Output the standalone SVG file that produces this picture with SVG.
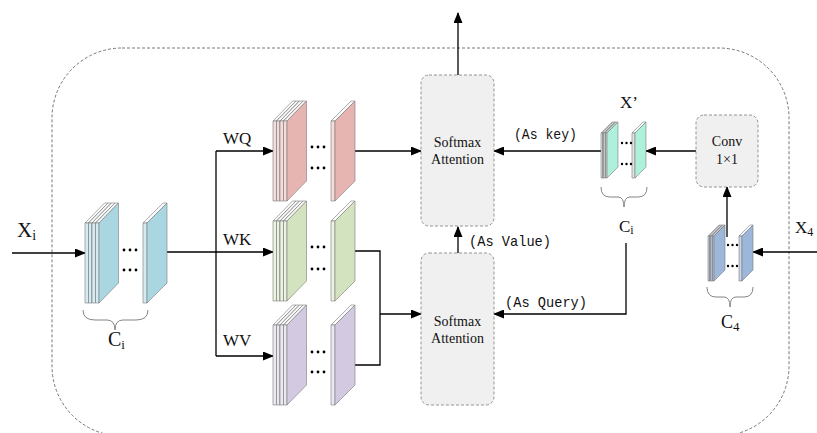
<svg xmlns="http://www.w3.org/2000/svg" xmlns:xlink="http://www.w3.org/1999/xlink" width="817" height="433" viewBox="0 0 817 433">
<style>
.slab{stroke:#7a7a7a;stroke-width:0.6;stroke-linejoin:round}
.ln{fill:none;stroke:#000;stroke-width:1.3}
.arr{marker-end:url(#ah)}
.box{fill:#f0f0f0;stroke:#888;stroke-width:0.9;stroke-dasharray:3 2}
.brace{fill:none;stroke:#777;stroke-width:0.9}
.serif{font-family:"Liberation Serif","Times New Roman",serif;fill:#111}
.mono{font-family:"Liberation Mono","Courier New",monospace;font-size:15px;fill:#111}
.bt{font-size:14px;text-anchor:middle}
.dots circle{fill:#111}
</style>
<defs>
<marker id="ah" markerWidth="11" markerHeight="9" refX="10" refY="4.5" orient="auto" markerUnits="userSpaceOnUse"><path d="M0,0 L11,4.5 L0,9 z" fill="#000"/></marker>
<g id="L"><polygon points="0,0 3.5,0 23,-20 19.5,-20" fill="#fafafa"/><rect width="3.5" height="80" fill="currentColor"/><polygon points="3.5,0 23,-20 23,60 3.5,80"/></g>
<g id="S"><polygon points="0,0 4,0 24,-20 20,-20" fill="#fafafa"/><rect width="4" height="80" fill="currentColor"/><polygon points="4,0 24,-20 24,60 4,80"/></g>
<g id="l"><polygon points="0,0 1.5,0 12.5,-11 11,-11" fill="#fafafa"/><rect width="1.5" height="45" fill="currentColor"/><polygon points="1.5,0 12.5,-11 12.5,34 1.5,45"/></g>
<g id="s"><polygon points="0,0 3,0 14,-11 11,-11" fill="#fafafa"/><rect width="3" height="45" fill="currentColor"/><polygon points="3,0 14,-11 14,34 3,45"/></g>
<g id="d6"><circle cx="0" cy="0" r="1.4"/><circle cx="6" cy="0" r="1.4"/><circle cx="12" cy="0" r="1.4"/></g>
<g id="d4"><circle cx="0" cy="0" r="1.2"/><circle cx="4.5" cy="0" r="1.2"/><circle cx="9" cy="0" r="1.2"/></g>
</defs>

<rect id="frame" x="52" y="48" width="737" height="388" rx="70" ry="70" fill="none" stroke="#666" stroke-width="0.9" stroke-dasharray="3 2"/>

<g id="connectors">
<line class="ln arr" x1="12" y1="253" x2="85" y2="253"/>
<line class="ln" x1="167" y1="252" x2="216" y2="252"/>
<line class="ln" x1="216" y1="151" x2="216" y2="356"/>
<line class="ln arr" x1="216" y1="151" x2="273" y2="151"/>
<line class="ln arr" x1="216" y1="252" x2="273" y2="252"/>
<line class="ln arr" x1="216" y1="356" x2="273" y2="356"/>
<line class="ln arr" x1="355" y1="151" x2="421" y2="151"/>
<polyline class="ln" points="355,251 380,251 380,365 355,365"/>
<line class="ln arr" x1="380" y1="314" x2="421" y2="314"/>
<line class="ln arr" x1="458" y1="75" x2="458" y2="13"/>
<line class="ln arr" x1="458" y1="253" x2="458" y2="227"/>
<line class="ln arr" x1="601" y1="151" x2="494" y2="151"/>
<line class="ln arr" x1="696" y1="151" x2="646" y2="151"/>
<line class="ln arr" x1="727" y1="237" x2="727" y2="187"/>
<line class="ln arr" x1="817" y1="252" x2="753" y2="252"/>
<polyline class="ln arr" points="626,243 626,314 494,314"/>
</g>

<g id="input-ci" class="slab" fill="#aad6e2" color="#d5ebf2">
<use href="#L" x="85" y="223"/><use href="#L" x="88.5" y="223"/><use href="#L" x="92" y="223"/><use href="#L" x="95.5" y="223"/>
<use href="#S" x="143" y="223"/>
</g>
<g class="dots"><use href="#d6" x="124" y="250"/><use href="#d6" x="124" y="270"/></g>
<path class="brace" d="M83,310 Q83,320 95,320 L107,320 Q115,320 115,330 Q115,320 123,320 L136,320 Q148,320 148,310"/>
<text class="serif" x="17" y="237" font-size="21">X<tspan font-size="14" dy="3">i</tspan></text>
<text class="serif" x="108" y="346" font-size="20">C<tspan font-size="13" dy="3">i</tspan></text>

<g id="q-block" class="slab" fill="#e6b4b1" color="#f5dcda">
<use href="#L" x="273" y="121"/><use href="#L" x="276.5" y="121"/><use href="#L" x="280" y="121"/><use href="#L" x="283.5" y="121"/>
<use href="#S" x="331" y="121"/>
</g>
<g class="dots"><use href="#d6" x="312" y="147"/><use href="#d6" x="312" y="168"/></g>
<text class="serif" x="223" y="144" font-size="17">WQ</text>

<g id="k-block" class="slab" fill="#d4e3bf" color="#ebf2df">
<use href="#L" x="273" y="221"/><use href="#L" x="276.5" y="221"/><use href="#L" x="280" y="221"/><use href="#L" x="283.5" y="221"/>
<use href="#S" x="331" y="221"/>
</g>
<g class="dots"><use href="#d6" x="312" y="247"/><use href="#d6" x="312" y="269"/></g>
<text class="serif" x="223" y="245" font-size="17">WK</text>

<g id="v-block" class="slab" fill="#d3cae1" color="#ece8f2">
<use href="#L" x="273" y="325"/><use href="#L" x="276.5" y="325"/><use href="#L" x="280" y="325"/><use href="#L" x="283.5" y="325"/>
<use href="#S" x="331" y="325"/>
</g>
<g class="dots"><use href="#d6" x="312" y="352"/><use href="#d6" x="312" y="372"/></g>
<text class="serif" x="223" y="346" font-size="17">WV</text>

<g id="softmax-top">
<rect class="box" x="421" y="75" width="73" height="151" rx="8"/>
<text class="serif bt" x="457.5" y="147">Softmax</text>
<text class="serif bt" x="457.5" y="164">Attention</text>
</g>
<g id="softmax-bottom">
<rect class="box" x="421" y="253" width="73" height="152" rx="8"/>
<text class="serif bt" x="457.5" y="326">Softmax</text>
<text class="serif bt" x="457.5" y="343">Attention</text>
</g>

<text class="mono" x="514" y="139" textLength="63" lengthAdjust="spacingAndGlyphs">(As key)</text>
<text class="mono" x="469" y="246" textLength="82" lengthAdjust="spacingAndGlyphs">(As Value)</text>
<text class="mono" x="505" y="307" textLength="82" lengthAdjust="spacingAndGlyphs">(As Query)</text>

<g id="x-prime" class="slab" fill="#aef0dc" color="#e4e4e4">
<use href="#l" x="601" y="133"/><use href="#l" x="602.5" y="133"/><use href="#l" x="604" y="133"/><use href="#l" x="605.5" y="133"/>
<use href="#s" x="632" y="133"/>
</g>
<g class="dots"><use href="#d4" x="622" y="143"/><use href="#d4" x="622" y="164"/></g>
<path class="brace" d="M601,187 Q601,197 610,197 L618,197 Q624,197 624,207 Q624,197 630,197 L638,197 Q647,197 647,187"/>
<text class="serif" x="620" y="108" font-size="17">X’</text>
<text class="serif" x="619" y="232" font-size="17">C<tspan font-size="12" dy="2">i</tspan></text>

<g id="conv">
<rect class="box" x="696" y="115" width="62" height="72" rx="8"/>
<text class="serif" x="727" y="146" font-size="14" text-anchor="middle">Conv</text>
<text class="serif" x="727" y="164" font-size="14" text-anchor="middle">1×1</text>
</g>

<g id="c4-block" class="slab" fill="#9db7da" color="#c8d5ea">
<use href="#l" x="708" y="236"/><use href="#l" x="709.5" y="236"/><use href="#l" x="711" y="236"/><use href="#l" x="712.5" y="236"/>
<use href="#s" x="739" y="236"/>
</g>
<g class="dots"><use href="#d4" x="728" y="245"/><use href="#d4" x="728" y="266"/></g>
<path class="brace" d="M707,287 Q707,297 716,297 L724,297 Q730,297 730,307 Q730,297 736,297 L744,297 Q753,297 753,287"/>
<text class="serif" x="721" y="328" font-size="18">C<tspan font-size="13" dy="3">4</tspan></text>
<text class="serif" x="795" y="233" font-size="17">X<tspan font-size="12" dy="3">4</tspan></text>
</svg>
